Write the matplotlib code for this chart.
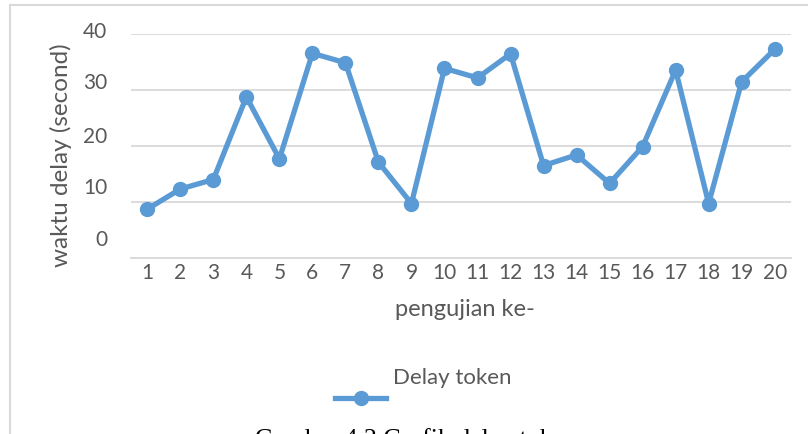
import matplotlib
matplotlib.use("Agg")
import matplotlib.pyplot as plt
import matplotlib.transforms as mtransforms
from matplotlib.lines import Line2D
from matplotlib.patches import Rectangle

plt.rcParams['font.family'] = ['Lato', 'DejaVu Sans']

categories = [str(i) for i in range(1, 21)]
delay = [8.7, 12.3, 14.0, 28.8, 17.7, 36.6, 34.9, 17.1, 9.7, 33.9,
         32.2, 36.5, 16.5, 18.4, 13.3, 19.9, 33.6, 9.7, 31.5, 37.3]
yticks = [0, 10, 20, 30, 40]
ylabel = "waktu delay (second)"
xlabel = "pengujian ke-"
series_name = "Delay token"
caption = "Gambar 4.2 Grafik delay token"

W, H = 808, 434
DPI = 100
fig = plt.figure(figsize=(W / DPI, H / DPI), dpi=DPI)

def px(x, y):
    return x / W, 1 - y / H

# outer frame
fig.add_artist(Rectangle((10 / W, -0.1), 1.2, 1.1 - 5 / H, transform=fig.transFigure,
                         fill=False, edgecolor='#D9D9D9', linewidth=1.5))

left, right, top, bottom = 130.8, 791.2, 34.3, 257.7
ax = fig.add_axes([left / W, 1 - bottom / H, (right - left) / W, (bottom - top) / H])

color = '#5B9BD5'
text_color = '#595959'
grid_color = '#D9D9D9'

x = list(range(1, len(categories) + 1))
ax.plot(x, delay, color=color, linewidth=3.8, marker='o', markersize=10,
        solid_joinstyle='round', clip_on=False, zorder=3)

ax.set_xlim(0.5, len(categories) + 0.5)
ax.set_ylim(0, 40)
ax.set_xticks(x)
ax.set_xticklabels(categories)
ax.set_yticks(yticks)
ax.set_yticklabels([str(v) for v in yticks])
ax.grid(axis='y', color=grid_color, linewidth=1.3)
ax.set_axisbelow(True)
for s in ['top', 'right', 'left']:
    ax.spines[s].set_visible(False)
ax.spines['bottom'].set_color(grid_color)
ax.spines['bottom'].set_linewidth(1.3)
ax.tick_params(axis='both', length=0, labelsize=15, labelcolor=text_color)
ax.tick_params(axis='x', pad=4)
ax.tick_params(axis='y', pad=17)

# y tick labels sit slightly above their gridlines in the reference
shifts = [19.7, 16, 11.3, 8.7, 4.3]
for lab, sh in zip(ax.get_yticklabels(), shifts):
    lab.set_transform(lab.get_transform() + mtransforms.ScaledTranslation(0, sh / DPI, fig.dpi_scale_trans))

fig.text(*px(61, 155), ylabel, rotation=90, ha='center', va='center',
         fontsize=17.5, color=text_color)
fig.text(*px(465, 310), xlabel, ha='center', va='center', fontsize=17, color=text_color)

# legend
fig.text(*px(452, 378), series_name, ha='center', va='center', fontsize=16, color=text_color)
x0, yl = px(335, 398)
x1, _ = px(386, 398)
fig.add_artist(Line2D([x0, x1], [yl, yl], transform=fig.transFigure, color=color,
                      linewidth=3.8))
fig.add_artist(Line2D([(x0 + x1) / 2], [yl], transform=fig.transFigure, color=color,
                      marker='o', markersize=10, linestyle='none'))

# caption (cut off at the bottom edge, as in the reference)
fig.text(*px(416, 428), caption, ha='center', va='top', fontsize=18.5,
         family='Liberation Serif', color='black')

fig.savefig('out.png', dpi=DPI)
